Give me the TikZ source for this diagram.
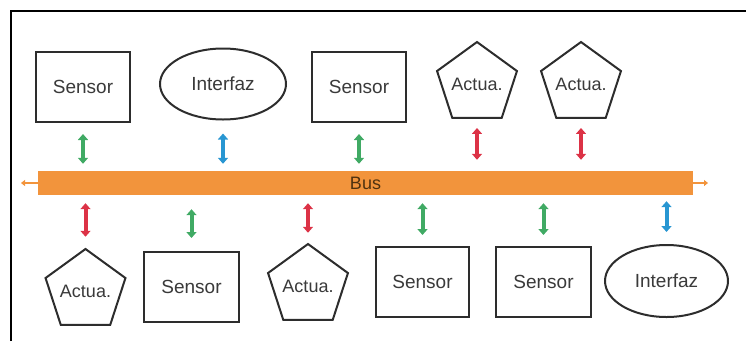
\documentclass[tikz,border=0pt]{standalone}
\usepackage{fontspec}
\setmainfont{Liberation Sans}
\usetikzlibrary{shapes.geometric,arrows.meta}
\definecolor{gr}{RGB}{64,170,100}
\definecolor{bl}{RGB}{40,150,210}
\definecolor{rd}{RGB}{220,50,70}
\definecolor{org}{RGB}{242,148,60}
\definecolor{txt}{RGB}{58,58,58}
\definecolor{stk}{RGB}{45,45,45}
\definecolor{bustxt}{RGB}{80,50,15}
\newcommand{\actlbl}{\makebox[0pt]{\fontsize{18}{20}\selectfont Actua.}}
\tikzset{
  lbl/.style={text=txt, font=\fontsize{19}{22}\selectfont, line width=2pt, draw=stk, fill=white, inner sep=0pt},
  sensorbox/.style={lbl, rectangle, minimum width=94pt, minimum height=70pt},
  ifbox/.style={lbl, ellipse, minimum width=126pt, minimum height=71pt},
  actbox/.style={lbl, regular polygon, regular polygon sides=5, minimum size=84pt},
  link/.style={line width=4pt, {Triangle[width=10pt,length=6pt]}-{Triangle[width=10pt,length=6pt]}},
  busend/.style={draw=org, line width=2pt, -{Triangle[width=6pt,length=4pt]}}
}
\begin{document}
\begin{tikzpicture}[x=1pt,y=-1pt]
\useasboundingbox (0,0) rectangle (746,341);
\draw[line width=2pt, black] (11,341) -- (11,11) -- (746,11);
% bus
\node[fill=org, minimum width=655pt, minimum height=24pt, inner sep=0pt,
      text=bustxt, font=\fontsize{18}{20}\selectfont] (bus) at (365.5,183) {Bus};
\coordinate (bl) at (21,183);
\coordinate (br) at (708,183);
\draw[busend] (bus.west) -- (bl);
\draw[busend] (bus.east) -- (br);
% top row
\node[sensorbox] (s1) at (83,87) {Sensor};
\node[ifbox] (i1) at (223,84) {Interfaz};
\node[sensorbox] (s2) at (359,87) {Sensor};
\node[actbox] (a1) at (477,84) {\actlbl};
\node[actbox] (a2) at (581,84) {\actlbl};
% bottom row
\node[actbox] (a3) at (85.5,291) {\actlbl};
\node[sensorbox, minimum width=95pt] (s3) at (191.5,287) {Sensor};
\node[actbox] (a4) at (308,286) {\actlbl};
\node[sensorbox, minimum width=93pt] (s4) at (422.5,282) {Sensor};
\node[sensorbox, minimum width=95pt] (s5) at (543.5,282) {Sensor};
\node[ifbox, minimum width=123pt, minimum height=72pt] (i2) at (666.5,281) {Interfaz};
% top links
\draw[link, gr, shorten <=11pt, shorten >=7pt] (s1.south) -- (s1.south |- bus.north);
\draw[link, bl, shorten <=13pt, shorten >=7pt] (i1.south) -- (i1.south |- bus.north);
\draw[link, gr, shorten <=11pt, shorten >=7pt] (s2.south) -- (s2.south |- bus.north);
\draw[link, rd, shorten <=9pt, shorten >=11pt] (a1.south) -- (a1.south |- bus.north);
\draw[link, rd, shorten <=9pt, shorten >=11pt] (a2.south) -- (a2.south |- bus.north);
% bottom links
\draw[link, rd, shorten <=8pt, shorten >=11pt] (bus.south -| a3.north) -- (a3.north);
\draw[link, gr, shorten <=14pt, shorten >=13pt] (bus.south -| s3.north) -- (s3.north);
\draw[link, rd, shorten <=8pt, shorten >=10pt] (bus.south -| a4.north) -- (a4.north);
\draw[link, gr, shorten <=8pt, shorten >=11pt] (bus.south -| s4.north) -- (s4.north);
\draw[link, gr, shorten <=8pt, shorten >=11pt] (bus.south -| s5.north) -- (s5.north);
\draw[link, bl, shorten <=6pt, shorten >=12pt] (bus.south -| i2.north) -- (i2.north);
\end{tikzpicture}
\end{document}
